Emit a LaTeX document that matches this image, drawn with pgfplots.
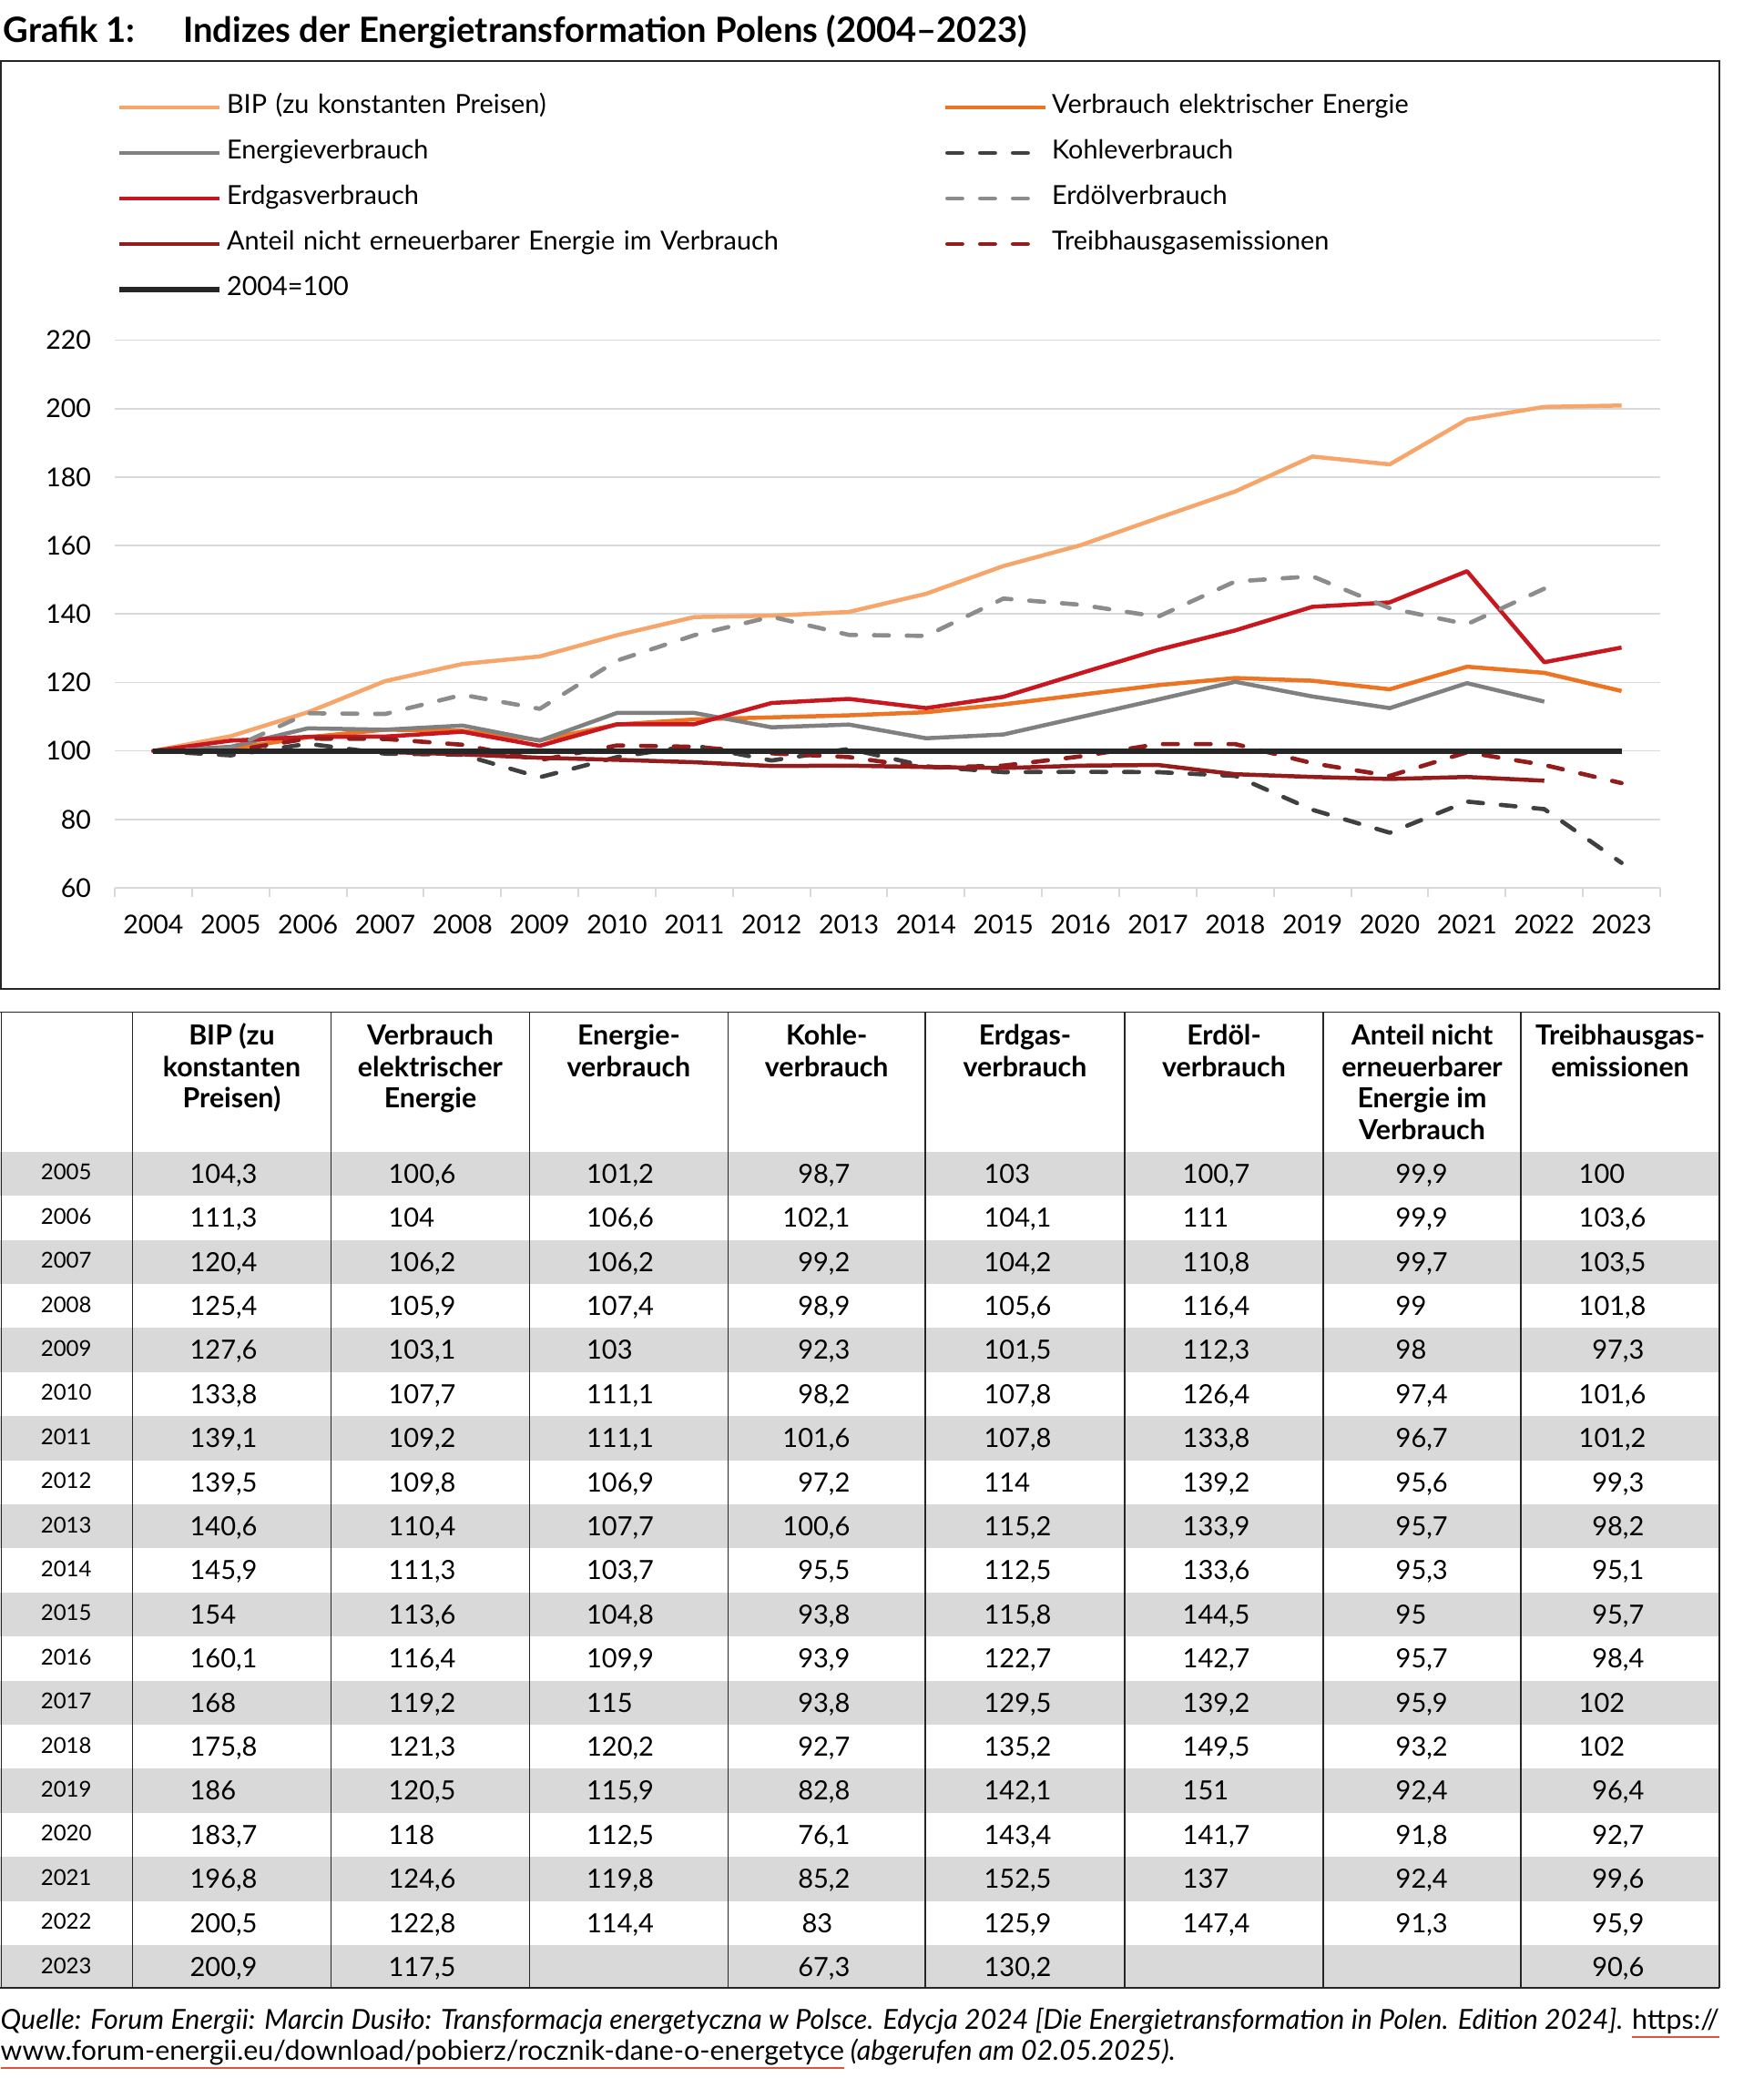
\documentclass[border=0pt]{standalone}
\usepackage{pgfplots}
\pgfplotsset{compat=1.18}
\usepackage{pgfplotstable}
\usepackage{fontspec}
\setmainfont{Lato}
\definecolor{cBIP}{HTML}{F6A56B}
\definecolor{cEl}{HTML}{ED7422}
\definecolor{cEn}{HTML}{808080}
\definecolor{cKo}{HTML}{404040}
\definecolor{cGas}{HTML}{C8171E}
\definecolor{cOel}{HTML}{8C8C8C}
\definecolor{cAnt}{HTML}{951C1C}
\definecolor{cThg}{HTML}{951C1C}
\definecolor{cBase}{HTML}{262626}
\definecolor{cGrid}{HTML}{D9D9D9}
\definecolor{cRow}{HTML}{D9D9D9}
\definecolor{cUl}{HTML}{E0533F}

\pgfplotstableread{
year bip el en ko gas oel ant thg base
2004 100 100 100 100 100 100 100 100 100
2005 104.3 100.6 101.2 98.7 103 100.7 99.9 100 100
2006 111.3 104 106.6 102.1 104.1 111 99.9 103.6 100
2007 120.4 106.2 106.2 99.2 104.2 110.8 99.7 103.5 100
2008 125.4 105.9 107.4 98.9 105.6 116.4 99 101.8 100
2009 127.6 103.1 103 92.3 101.5 112.3 98 97.3 100
2010 133.8 107.7 111.1 98.2 107.8 126.4 97.4 101.6 100
2011 139.1 109.2 111.1 101.6 107.8 133.8 96.7 101.2 100
2012 139.5 109.8 106.9 97.2 114 139.2 95.6 99.3 100
2013 140.6 110.4 107.7 100.6 115.2 133.9 95.7 98.2 100
2014 145.9 111.3 103.7 95.5 112.5 133.6 95.3 95.1 100
2015 154 113.6 104.8 93.8 115.8 144.5 95 95.7 100
2016 160.1 116.4 109.9 93.9 122.7 142.7 95.7 98.4 100
2017 168 119.2 115 93.8 129.5 139.2 95.9 102 100
2018 175.8 121.3 120.2 92.7 135.2 149.5 93.2 102 100
2019 186 120.5 115.9 82.8 142.1 151 92.4 96.4 100
2020 183.7 118 112.5 76.1 143.4 141.7 91.8 92.7 100
2021 196.8 124.6 119.8 85.2 152.5 137 92.4 99.6 100
2022 200.5 122.8 114.4 83 125.9 147.4 91.3 95.9 100
2023 200.9 117.5 nan 67.3 130.2 nan nan 90.6 100
}\data

\def\nanstr{nan}
\newcommand\pnum[1]{\pgfmathprintnumber[use comma,fixed,precision=1,assume math mode=true]{#1}}
\tikzset{numnode/.style={inner sep=0pt, font=\fontsize{8.7}{10}\selectfont}}
\newcommand\cellv[4]{%
  \pgfplotstablegetelem{#1}{#2}\of\data
  \edef\v{\pgfplotsretval}%
  \ifx\v\nanstr\else
    \node[numnode, anchor=base #3] at (#4,\yb) {\pnum{\v}};%
  \fi}
\newcommand\cellko[1]{%
  \pgfplotstablegetelem{#1}{ko}\of\data
  \edef\v{\pgfplotsretval}%
  \ifdim\v pt=83pt
    \node[numnode, anchor=base west] at (880,\yb) {\pnum{\v}};%
  \else
    \node[numnode, anchor=base east] at (934,\yb) {\pnum{\v}};%
  \fi}
\newcommand\cellthg[1]{%
  \pgfplotstablegetelem{#1}{thg}\of\data
  \edef\v{\pgfplotsretval}%
  \ifdim\v pt<100pt
    \node[numnode, anchor=base east] at (1806,\yb) {\pnum{\v}};%
  \else
    \node[numnode, anchor=base west] at (1733,\yb) {\pnum{\v}};%
  \fi}
\newcommand\ulr[1]{\setbox0\hbox{#1}\rlap{\color{cUl}\rule[-3pt]{\wd0}{0.75pt}}\box0\relax}
\newcommand\hd[1]{\parbox[t]{64pt}{\centering\baselineskip=10.4pt #1}}
\pgfplotsset{dashlegend/.style={legend image code/.code={\draw[##1] (0.7pt,0pt) -- (27.5pt,0pt);}}}

\begin{document}
\begin{tikzpicture}
\begin{scope}[x=0.3pt, y=-0.3pt]
\path[use as bounding box] (0,0) rectangle (1891,2282);
% title
\node[anchor=base west, inner sep=0pt, font=\bfseries\fontsize{11.45}{13}\selectfont] at (3,46) {Grafik 1:};
\node[anchor=base west, inner sep=0pt, font=\bfseries\fontsize{11.45}{13}\selectfont] at (200.5,46) {Indizes der Energietransformation Polens (2004–2023)};
% chart box
\draw[black!85, line width=0.45pt] (1,67) rectangle (1888,1086);
\coordinate (axpos) at (126,975);
% table backgrounds
\foreach \r in {1,3,...,19}{
  \fill[cRow] (0,{1264.7+48.4*(\r-1)}) rectangle (1888,{1264.7+48.4*\r});
}
% table lines
\foreach \xx in {1.5,145.5,363.5,581.5,799.5,1016,1235,1453,1670,1888}{
  \draw[black!85, line width=0.45pt] (\xx,1111.5) -- (\xx,2183);
}
\draw[black!85, line width=0.5pt] (0,1111.5) -- (1888,1111.5);
\draw[black!85, line width=0.6pt] (0,2183) -- (1888,2183);
% header
\begin{scope}[every node/.style={anchor=base, inner sep=0pt, font=\bfseries\fontsize{9.1}{10.4}\selectfont}]
\node at (254.5,1147.5) {\hd{BIP (zu\\konstanten\\Preisen)}};
\node at (472.5,1147.5) {\hd{Verbrauch\\elektrischer\\Energie}};
\node at (690.5,1147.5) {\hd{Energie-\\verbrauch}};
\node at (907.75,1147.5) {\hd{Kohle-\\verbrauch}};
\node at (1125.5,1147.5) {\hd{Erdgas-\\verbrauch}};
\node at (1344,1147.5) {\hd{Erdöl-\\verbrauch}};
\node at (1561.5,1147.5) {\hd{Anteil nicht\\erneuerbarer\\Energie im\\Verbrauch}};
\node at (1779,1147.5) {\hd{Treibhausgas-\\emissionen}};
\end{scope}
% body
\foreach \r in {1,...,19}{
  \pgfmathsetmacro\yc{1264.7+48.4*(\r-1)+24.2}
  \pgfmathsetmacro\yb{\yc+10.4}
  \pgfmathsetmacro\yy{\yc+7.0}
  \pgfmathtruncatemacro\yr{2004+\r}
  \node[anchor=base, inner sep=0pt, font=\fontsize{7.2}{9}\selectfont] at (72.7,\yy) {\yr};
  \cellv{\r}{bip}{west}{208}
  \cellv{\r}{el}{west}{426}
  \cellv{\r}{en}{west}{643.5}
  \cellko{\r}
  \cellv{\r}{gas}{west}{1080}
  \cellv{\r}{oel}{west}{1298}
  \cellv{\r}{ant}{west}{1532}
  \cellthg{\r}
}
% source
\node[anchor=base west, inner sep=0pt, font=\itshape\fontsize{9.1}{11}\selectfont] at (0,2228) {\hbox to 566.2pt{Quelle: Forum Energii: Marcin Dusiło: Transformacja energetyczna w Polsce. Edycja 2024 [Die Energietransformation in Polen. Edition 2024]. \ulr{\upshape https://}}};
\node[anchor=base west, inner sep=0pt, font=\itshape\fontsize{9.1}{11}\selectfont] at (0,2262) {\ulr{\upshape www.forum-energii.eu/download/pobierz/rocznik-dane-o-energetyce} (abgerufen am 02.05.2025).};
\end{scope}

\begin{axis}[
  at={(axpos)}, anchor=south west,
  scale only axis, width=509.1pt, height=180.45pt,
  xmin=-0.5, xmax=19.5, ymin=60, ymax=220,
  axis x line*=bottom, axis y line*=left,
  x axis line style={draw=cGrid, line width=0.6pt},
  y axis line style={draw=none},
  ytick={60,80,...,220},
  xtick={0,...,19},
  xticklabels={2004,2005,2006,2007,2008,2009,2010,2011,2012,2013,2014,2015,2016,2017,2018,2019,2020,2021,2022,2023},
  minor xtick={-0.5,0.5,...,19.5},
  major tick length=0pt, minor tick length=3pt, tick align=outside,
  minor x tick style={draw=cGrid, line width=0.6pt},
  ymajorgrids, grid style={draw=cGrid, line width=0.5pt},
  /pgf/number format/assume math mode=true,
  tick label style={font=\fontsize{8.55}{10}\selectfont},
  yticklabel style={xshift=-4.3pt},
  xticklabel style={yshift=-5.5pt},
  legend columns=2,
  legend cell align=left,
  legend style={at={(axis description cs:0.0012,1.447)}, anchor=north west, draw=none, fill=none,
    inner sep=0pt, outer sep=0pt, column sep=1.5pt, row sep=7pt,
    font=\fontsize{8.65}{10}\selectfont,
    nodes={inner sep=0pt, text height=6pt, text depth=2pt, text width=234.5pt, align=left}},
  legend image code/.code={\draw[#1] (0pt,0pt) -- (33pt,0pt);},
  every axis plot/.append style={line join=round},
]
\addplot[cBIP, line width=1.35pt] table[x expr=\coordindex, y=bip]{\data};
\addlegendentry{BIP (zu konstanten Preisen)}
\addplot[cEl, line width=1.35pt] table[x expr=\coordindex, y=el]{\data};
\addlegendentry{Verbrauch elektrischer Energie}
\addplot[cEn, line width=1.35pt] table[x expr=\coordindex, y=en]{\data};
\addlegendentry{Energieverbrauch}
\addplot[cKo, line width=1.4pt, line cap=round, dash pattern=on 4.9pt off 5.9pt, dashlegend] table[x expr=\coordindex, y=ko]{\data};
\addlegendentry{Kohleverbrauch}
\addplot[cGas, line width=1.35pt] table[x expr=\coordindex, y=gas]{\data};
\addlegendentry{Erdgasverbrauch}
\addplot[cOel, line width=1.4pt, line cap=round, dash pattern=on 4.9pt off 5.9pt, dashlegend] table[x expr=\coordindex, y=oel]{\data};
\addlegendentry{Erdölverbrauch}
\addplot[cAnt, line width=1.35pt] table[x expr=\coordindex, y=ant]{\data};
\addlegendentry{Anteil nicht erneuerbarer Energie im Verbrauch}
\addplot[cThg, line width=1.4pt, line cap=round, dash pattern=on 4.9pt off 5.9pt, dashlegend] table[x expr=\coordindex, y=thg]{\data};
\addlegendentry{Treibhausgasemissionen}
\addplot[cBase, line width=1.8pt] table[x expr=\coordindex, y=base]{\data};
\addlegendentry{2004=100}
\end{axis}
\end{tikzpicture}
\end{document}
